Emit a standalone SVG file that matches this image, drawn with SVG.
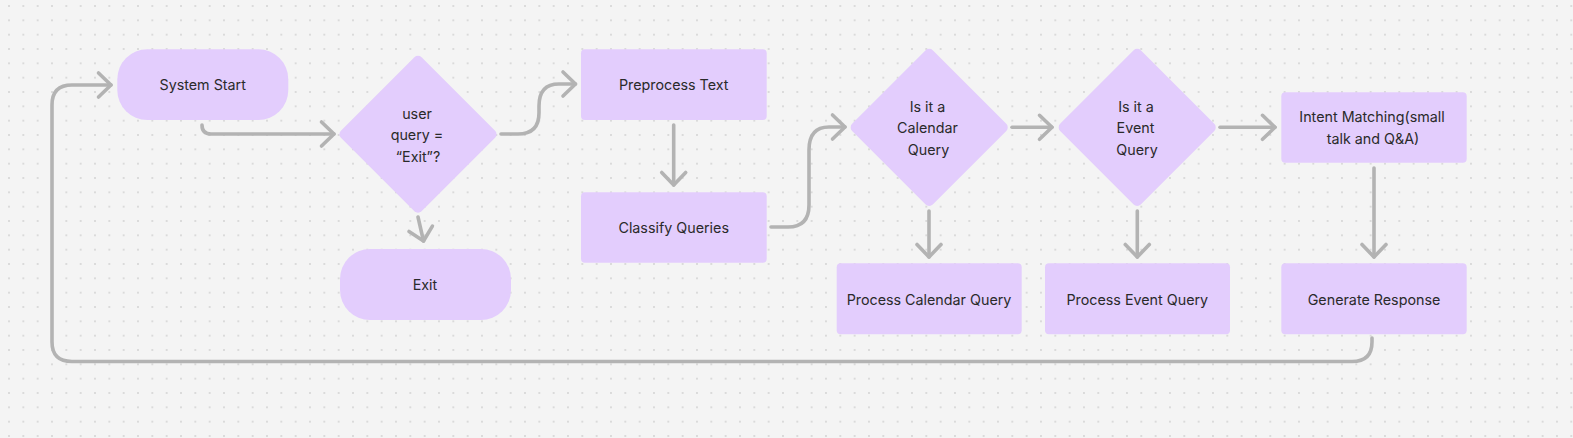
<svg xmlns="http://www.w3.org/2000/svg" width="1573" height="438" viewBox="0 0 1573 438">
<defs>
<pattern id="dots" x="9" y="6" width="14.333" height="14.333" patternUnits="userSpaceOnUse">
<rect x="-0.7" y="-0.7" width="1.4" height="1.4" fill="#c4c4c4"/>
<rect x="13.633" y="-0.7" width="1.4" height="1.4" fill="#c4c4c4"/>
<rect x="-0.7" y="13.633" width="1.4" height="1.4" fill="#c4c4c4"/>
<rect x="13.633" y="13.633" width="1.4" height="1.4" fill="#c4c4c4"/>
</pattern>
<marker id="arr" markerUnits="userSpaceOnUse" markerWidth="32" markerHeight="32" viewBox="-20 -16 32 32" refX="0" refY="0" orient="auto">
<path d="M-12.5,-12 L0,0 L-12.5,12" fill="none" stroke="#b3b3b3" stroke-width="3.6" stroke-linecap="round" stroke-linejoin="round"/>
</marker>
<style>
.node{fill:#e3cdfd}
.t{font-family:Inter,"Noto Sans","Liberation Sans",sans-serif;font-size:14.3px;fill:#2a2a2a;text-anchor:middle}
.c{fill:none;stroke:#b3b3b3;stroke-width:3.6;stroke-linecap:round;stroke-linejoin:round;marker-end:url(#arr)}
</style>
</defs>
<rect width="1573" height="438" fill="#f4f4f4"/>
<rect width="1573" height="438" fill="url(#dots)"/>

<g id="connectors">
<path class="c" d="M1372,338 V342 Q1372,361.5 1352,361.5 H72 Q52,361.5 52,342 V105 Q52,85 72,85 H111"/>
<path class="c" d="M202,125 Q202,134 211,134 H334"/>
<path class="c" d="M418,217 L423.5,241"/>
<path class="c" d="M501,134 H518 C533,134 539,126 539,113 V106 C539,92 545,84 559,84 H575.5"/>
<path class="c" d="M673.7,125 V185"/>
<path class="c" d="M771,227 H788 C803,227 809,219 809,205 V150 C809,135 815,127 829,127 H845"/>
<path class="c" d="M929,211 V257"/>
<path class="c" d="M1012,127.3 H1052"/>
<path class="c" d="M1220,127.3 H1275"/>
<path class="c" d="M1137.3,211 V257"/>
<path class="c" d="M1374,168 V257"/>
</g>

<g id="system-start">
<rect class="node" x="117.3" y="49.3" width="171" height="70.7" rx="30"/>
<text class="t" x="202.7" y="90">System Start</text>
</g>
<g id="exit-check">
<rect class="node" x="-57" y="-57" width="114" height="114" rx="5" transform="translate(418,134.2) rotate(45)"/>
<text class="t" x="417" y="118.5">user</text>
<text class="t" x="417" y="140">query =</text>
<text class="t" x="418" y="161.5">“Exit”?</text>
</g>
<g id="exit">
<rect class="node" x="340" y="249" width="171" height="71" rx="30"/>
<text class="t" x="425" y="290">Exit</text>
</g>
<g id="preprocess-text">
<rect class="node" x="581" y="49.3" width="185.7" height="70.7" rx="4"/>
<text class="t" x="673.7" y="90">Preprocess Text</text>
</g>
<g id="classify-queries">
<rect class="node" x="581" y="192.3" width="185.7" height="70.4" rx="4"/>
<text class="t" x="673.7" y="232.5">Classify Queries</text>
</g>
<g id="calendar-check">
<rect class="node" x="-57" y="-57" width="114" height="114" rx="5" transform="translate(929.2,127.4) rotate(45)"/>
<text class="t" x="927.5" y="111.5">Is it a</text>
<text class="t" x="927.5" y="133">Calendar</text>
<text class="t" x="928.5" y="154.5">Query</text>
</g>
<g id="process-calendar">
<rect class="node" x="836.7" y="263.3" width="185" height="71" rx="4"/>
<text class="t" x="929" y="304.5">Process Calendar Query</text>
</g>
<g id="event-check">
<rect class="node" x="-57" y="-57" width="114" height="114" rx="5" transform="translate(1137.2,127.4) rotate(45)"/>
<text class="t" x="1136" y="111.5">Is it a</text>
<text class="t" x="1135.5" y="133">Event</text>
<text class="t" x="1137" y="154.5">Query</text>
</g>
<g id="process-event">
<rect class="node" x="1045" y="263.3" width="185" height="71" rx="4"/>
<text class="t" x="1137.3" y="304.5">Process Event Query</text>
</g>
<g id="intent-matching">
<rect class="node" x="1281.3" y="92.3" width="185.4" height="70.4" rx="4"/>
<text class="t" x="1372" y="122">Intent Matching(small</text>
<text class="t" x="1373" y="143.7">talk and Q&amp;A)</text>
</g>
<g id="generate-response">
<rect class="node" x="1281.3" y="263.3" width="185.4" height="71" rx="4"/>
<text class="t" x="1374" y="304.5">Generate Response</text>
</g>
</svg>
